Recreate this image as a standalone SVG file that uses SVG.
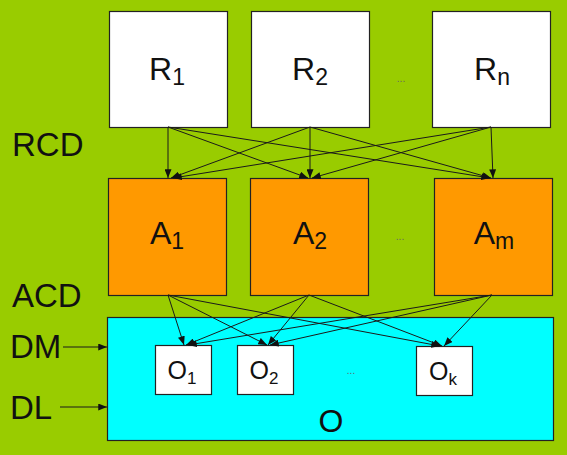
<svg xmlns="http://www.w3.org/2000/svg" width="567" height="455" viewBox="0 0 567 455">
  <defs>
    <marker id="arrow" viewBox="0 0 10 8" refX="10" refY="4" markerWidth="9" markerHeight="7" markerUnits="userSpaceOnUse" orient="auto">
      <path d="M0,0 L10,4 L0,8 Z" fill="#111"/>
    </marker>
    <style>
      text { font-family: "Liberation Sans", Arial, sans-serif; fill: #111; }
      .box { stroke: #222; stroke-width: 1.2; }
      .req { fill: #ffffff; }
      .act { fill: #ff9900; }
      .obj { fill: #ffffff; }
      .big { font-size: 32px; text-anchor: middle; }
      .small { font-size: 25px; text-anchor: middle; }
      .side { font-size: 33px; }
      .dots { font-size: 10px; fill: #666; text-anchor: middle; }
      .conn line { stroke: #1a1a1a; stroke-width: 1; marker-end: url(#arrow); }
    </style>
  </defs>

  <!-- background -->
  <rect x="0" y="0" width="567" height="455" fill="#99cc00"/>

  <!-- side labels -->
  <g id="labels">
    <text class="side" x="12" y="156">RCD</text>
    <text class="side" x="12" y="307">ACD</text>
    <text class="side" x="10" y="358">DM</text>
    <text class="side" x="10" y="419">DL</text>
  </g>

  <!-- outcome container -->
  <g id="O">
    <rect class="box" x="107.5" y="317.5" width="446" height="123" fill="#00ffff"/>
    <text class="big" x="331" y="432">O</text>
  </g>

  <!-- request nodes -->
  <g id="R1">
    <rect class="box req" x="109.5" y="11.5" width="118" height="116"/>
    <text class="big" x="167" y="80">R<tspan font-size="23" dy="5">1</tspan></text>
  </g>
  <g id="R2">
    <rect class="box req" x="251.5" y="11.5" width="118" height="116"/>
    <text class="big" x="310" y="80">R<tspan font-size="23" dy="5">2</tspan></text>
  </g>
  <g id="Rn">
    <rect class="box req" x="432.5" y="11.5" width="118" height="116"/>
    <text class="big" x="492" y="80">R<tspan font-size="23" dy="5">n</tspan></text>
  </g>
  <text class="dots" x="401" y="82">...</text>

  <!-- activity nodes -->
  <g id="A1">
    <rect class="box act" x="108.5" y="178.5" width="118" height="117"/>
    <text class="big" x="167" y="244">A<tspan font-size="23" dy="5">1</tspan></text>
  </g>
  <g id="A2">
    <rect class="box act" x="250.5" y="178.5" width="118" height="117"/>
    <text class="big" x="310" y="244">A<tspan font-size="23" dy="5">2</tspan></text>
  </g>
  <g id="Am">
    <rect class="box act" x="434.5" y="178.5" width="118" height="117"/>
    <text class="big" x="494" y="244">A<tspan font-size="23" dy="5">m</tspan></text>
  </g>
  <text class="dots" x="400" y="240">...</text>

  <!-- object nodes -->
  <g id="O1">
    <rect class="box obj" x="155.5" y="345.5" width="56" height="49"/>
    <text class="small" x="182" y="379">O<tspan font-size="17" dy="5">1</tspan></text>
  </g>
  <g id="O2">
    <rect class="box obj" x="237.5" y="345.5" width="56" height="49"/>
    <text class="small" x="264" y="379">O<tspan font-size="17" dy="5">2</tspan></text>
  </g>
  <g id="Ok">
    <rect class="box obj" x="416.5" y="346.5" width="56" height="49"/>
    <text class="small" x="443" y="380">O<tspan font-size="17" dy="5">k</tspan></text>
  </g>
  <text class="dots" x="351" y="374">...</text>

  <!-- connectors -->
  <g id="connectors" class="conn">
    <!-- requests to activities -->
    <line x1="168" y1="127" x2="168" y2="178"/>
    <line x1="168" y1="127" x2="308" y2="178"/>
    <line x1="168" y1="127" x2="490" y2="178"/>
    <line x1="310" y1="127" x2="171" y2="178"/>
    <line x1="310" y1="127" x2="310" y2="178"/>
    <line x1="310" y1="127" x2="491" y2="178"/>
    <line x1="491" y1="127" x2="173" y2="178"/>
    <line x1="491" y1="127" x2="312" y2="178"/>
    <line x1="491" y1="127" x2="493" y2="178"/>
    <!-- activities to objects -->
    <line x1="168" y1="295" x2="184" y2="345"/>
    <line x1="168" y1="295" x2="267" y2="345"/>
    <line x1="168" y1="295" x2="440" y2="346"/>
    <line x1="309" y1="295" x2="186" y2="345"/>
    <line x1="309" y1="295" x2="268" y2="345"/>
    <line x1="309" y1="295" x2="442" y2="346"/>
    <line x1="492" y1="295" x2="188" y2="345"/>
    <line x1="492" y1="295" x2="270" y2="345"/>
    <line x1="492" y1="295" x2="444" y2="346"/>
    <!-- side indicators -->
    <line x1="63" y1="347" x2="107" y2="347"/>
    <line x1="60" y1="407" x2="107" y2="407"/>
  </g>
</svg>
